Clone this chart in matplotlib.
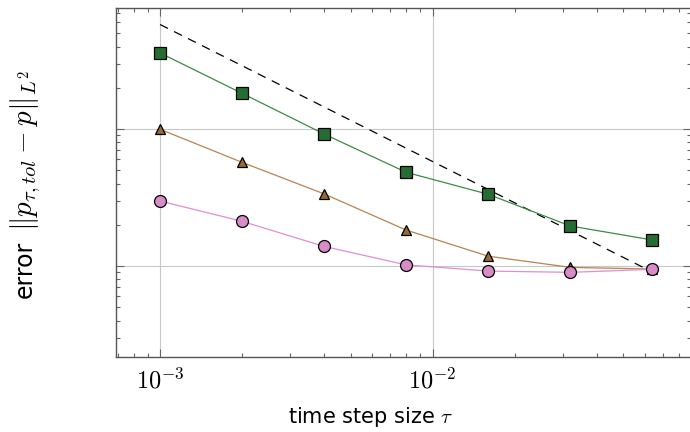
import numpy as np
import matplotlib
matplotlib.use('Agg')
import matplotlib.pyplot as plt
from matplotlib.ticker import FuncFormatter

plt.rcParams['mathtext.fontset'] = 'cm'
plt.rcParams['font.family'] = ['DejaVu Sans']

# time step sizes
tau = [0.001, 0.002, 0.004, 0.008, 0.016, 0.032, 0.064]

# errors (y axis carries no labels, scale is relative)
err_sq = [0.0359, 0.0182, 0.00919, 0.00483, 0.00334, 0.00196, 0.00155]
err_tri = [0.00995, 0.00571, 0.00336, 0.00183, 0.00118, 0.000978, 0.000950]
err_circ = [0.00298, 0.00212, 0.00139, 0.00102, 0.000919, 0.000899, 0.000946]

# first order reference slope
ref_tau = [0.001, 0.064]
ref_err = [0.0579, 0.000905]

fig = plt.figure(figsize=(6.9, 4.32), dpi=100)
ax = fig.add_axes([116/690, 75/432, 575/690, 349/432])

ax.plot(ref_tau, ref_err, color='k', lw=0.9, ls=(0, (7, 5.5)))
ax.plot(tau, err_sq, color='#3c8a48', lw=0.9, marker='s', ms=8.4,
        mfc='#246e34', mec='k', mew=0.9)
ax.plot(tau, err_tri, color='#b5854f', lw=0.9, marker='^', ms=7.2,
        mfc='#966939', mec='k', mew=0.9)
ax.plot(tau, err_circ, color='#e08fd0', lw=0.9, marker='o', ms=8.6,
        mfc='#d78cc8', mec='k', mew=0.9)

ax.set_xscale('log')
ax.set_yscale('log')
ax.set_xlim(6.89e-4, 0.0888)
ax.set_ylim(2.168e-4, 0.0764)

ax.grid(True, which='major', color='#c8c8c8', lw=0.8)
ax.set_axisbelow(True)
ax.tick_params(which='both', direction='in', top=True, right=True,
               color='#666666', labelleft=False, labelsize=17.5, pad=8)
ax.tick_params(which='major', length=5.5, width=0.8)
ax.tick_params(which='minor', length=3.2, width=0.8)
ax.xaxis.set_major_formatter(FuncFormatter(
    lambda v, p: r'$10^{%d}$' % int(round(np.log10(v)))))
for s in ax.spines.values():
    s.set_color('#555555')
    s.set_linewidth(1.0)

ax.set_xlabel(r'time step size $\tau$', fontsize=15, labelpad=8)
ax.xaxis.label.set_x((371 - 116) / 575)

# y label: plain word plus a larger math part, both on one baseline
fig.text(32/690, 1 - 298/432, 'error', rotation=90, rotation_mode='anchor',
         ha='left', va='baseline', fontsize=17)
fig.text(32/690, 1 - 231/432, r'$\|p_{\tau,tol} - p\|_{L^2}$', rotation=90,
         rotation_mode='anchor', ha='left', va='baseline', fontsize=21)

fig.savefig('out.png', dpi=100)
